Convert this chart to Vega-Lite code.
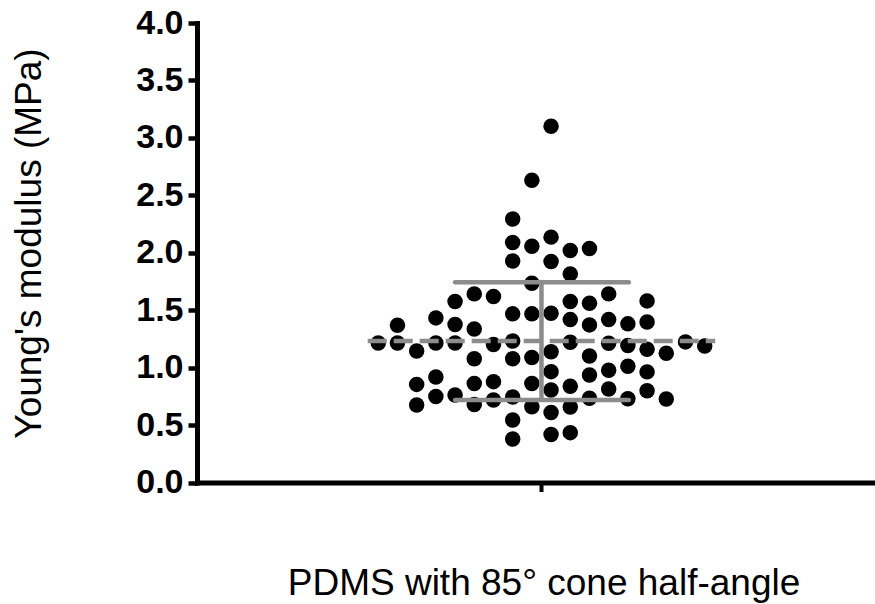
{
  "$schema": "https://vega.github.io/schema/vega-lite/v6.json",
  "width": 678,
  "height": 459.5,
  "autosize": {"type": "none"},
  "padding": {"left": 197, "top": 23, "right": 0, "bottom": 121.5},
  "background": "white",
  "config": {"view": {"stroke": null}, "font": "Liberation Sans"},
  "datasets": {
    "moduli": [
      {"slot": -8.5, "E": 1.215},
      {"slot": -7.5, "E": 1.368}, {"slot": -7.5, "E": 1.215},
      {"slot": -6.5, "E": 1.145}, {"slot": -6.5, "E": 0.854}, {"slot": -6.5, "E": 0.675},
      {"slot": -5.5, "E": 1.433}, {"slot": -5.5, "E": 1.215}, {"slot": -5.5, "E": 0.919}, {"slot": -5.5, "E": 0.749},
      {"slot": -4.5, "E": 1.575}, {"slot": -4.5, "E": 1.376}, {"slot": -4.5, "E": 1.215}, {"slot": -4.5, "E": 0.762},
      {"slot": -3.5, "E": 1.642}, {"slot": -3.5, "E": 1.337}, {"slot": -3.5, "E": 1.078}, {"slot": -3.5, "E": 0.861}, {"slot": -3.5, "E": 0.678},
      {"slot": -2.5, "E": 1.62}, {"slot": -2.5, "E": 1.202}, {"slot": -2.5, "E": 0.878}, {"slot": -2.5, "E": 0.719},
      {"slot": -1.5, "E": 2.293}, {"slot": -1.5, "E": 2.089}, {"slot": -1.5, "E": 1.929}, {"slot": -1.5, "E": 1.468}, {"slot": -1.5, "E": 1.231}, {"slot": -1.5, "E": 1.078}, {"slot": -1.5, "E": 0.745}, {"slot": -1.5, "E": 0.544}, {"slot": -1.5, "E": 0.379},
      {"slot": -0.5, "E": 2.632}, {"slot": -0.5, "E": 2.056}, {"slot": -0.5, "E": 1.735}, {"slot": -0.5, "E": 1.468}, {"slot": -0.5, "E": 1.089}, {"slot": -0.5, "E": 0.862}, {"slot": -0.5, "E": 0.66},
      {"slot": 0.5, "E": 3.101}, {"slot": 0.5, "E": 2.136}, {"slot": 0.5, "E": 1.923}, {"slot": 0.5, "E": 1.474}, {"slot": 0.5, "E": 1.139}, {"slot": 0.5, "E": 0.965}, {"slot": 0.5, "E": 0.806}, {"slot": 0.5, "E": 0.61}, {"slot": 0.5, "E": 0.418},
      {"slot": 1.5, "E": 2.019}, {"slot": 1.5, "E": 1.816}, {"slot": 1.5, "E": 1.575}, {"slot": 1.5, "E": 1.418}, {"slot": 1.5, "E": 1.221}, {"slot": 1.5, "E": 0.838}, {"slot": 1.5, "E": 0.658}, {"slot": 1.5, "E": 0.434},
      {"slot": 2.5, "E": 2.037}, {"slot": 2.5, "E": 1.561}, {"slot": 2.5, "E": 1.372}, {"slot": 2.5, "E": 1.102}, {"slot": 2.5, "E": 0.936}, {"slot": 2.5, "E": 0.733},
      {"slot": 3.5, "E": 1.642}, {"slot": 3.5, "E": 1.418}, {"slot": 3.5, "E": 1.213}, {"slot": 3.5, "E": 0.977}, {"slot": 3.5, "E": 0.814},
      {"slot": 4.5, "E": 1.381}, {"slot": 4.5, "E": 1.193}, {"slot": 4.5, "E": 1.012}, {"slot": 4.5, "E": 0.729},
      {"slot": 5.5, "E": 1.581}, {"slot": 5.5, "E": 1.398}, {"slot": 5.5, "E": 1.16}, {"slot": 5.5, "E": 0.963}, {"slot": 5.5, "E": 0.799},
      {"slot": 6.5, "E": 1.125}, {"slot": 6.5, "E": 0.727},
      {"slot": 7.5, "E": 1.224},
      {"slot": 8.5, "E": 1.189}
    ],
    "summary": [{"mean": 1.232, "lo": 0.719, "hi": 1.744}]
  },
  "layer": [
    {
      "data": {"name": "moduli"},
      "mark": {"type": "circle", "size": 240, "color": "black", "opacity": 1},
      "encoding": {
        "x": {
          "field": "slot",
          "type": "quantitative",
          "scale": {"domain": [-17.94, 17.37], "nice": false, "zero": false},
          "axis": {
            "title": "PDMS with 85° cone half-angle",
            "values": [0],
            "labels": false,
            "grid": false,
            "domainColor": "black",
            "domainWidth": 5,
            "domainCap": "square",
            "tickColor": "black",
            "tickWidth": 4,
            "tickSize": 9,
            "titleFont": "Liberation Sans",
            "titleFontSize": 37,
            "titleFontWeight": "normal",
            "titleColor": "black",
            "titleX": 346.5,
            "titleY": 100.5,
            "titleBaseline": "middle",
            "titleAlign": "center"
          }
        },
        "y": {
          "field": "E",
          "type": "quantitative",
          "scale": {"domain": [0, 4], "nice": false},
          "axis": {
            "title": "Young's modulus (MPa)",
            "values": [0, 0.5, 1, 1.5, 2, 2.5, 3, 3.5, 4],
            "format": ".1f",
            "grid": false,
            "domainColor": "black",
            "domainWidth": 5,
            "domainCap": "square",
            "tickColor": "black",
            "tickWidth": 4.5,
            "tickSize": 9,
            "labelFont": "Liberation Sans",
            "labelFontWeight": "bold",
            "labelFontSize": 34,
            "labelColor": "black",
            "labelPadding": 5,
            "labelOverlap": false,
            "titleFont": "Liberation Sans",
            "titleFontSize": 37,
            "titleFontWeight": "normal",
            "titleColor": "black",
            "titleAngle": -90,
            "titleX": -168,
            "titleY": 220,
            "titleBaseline": "middle",
            "titleAlign": "center"
          }
        }
      }
    },
    {
      "data": {"name": "summary"},
      "mark": {"type": "rule", "color": "#8c8c8c", "strokeWidth": 4.5, "strokeDash": [19, 7]},
      "encoding": {
        "x": {"datum": -9.05},
        "x2": {"datum": 9.05},
        "y": {"field": "mean", "type": "quantitative"}
      }
    },
    {
      "data": {"name": "summary"},
      "mark": {"type": "rule", "color": "#8c8c8c", "strokeWidth": 4.5},
      "encoding": {
        "x": {"datum": 0},
        "y": {"field": "lo", "type": "quantitative"},
        "y2": {"field": "hi"}
      }
    },
    {
      "data": {"name": "summary"},
      "mark": {"type": "rule", "color": "#8c8c8c", "strokeWidth": 4.5, "strokeCap": "round"},
      "encoding": {
        "x": {"datum": -4.5},
        "x2": {"datum": 4.55},
        "y": {"field": "hi", "type": "quantitative"}
      }
    },
    {
      "data": {"name": "summary"},
      "mark": {"type": "rule", "color": "#8c8c8c", "strokeWidth": 4.5, "strokeCap": "round"},
      "encoding": {
        "x": {"datum": -4.5},
        "x2": {"datum": 4.55},
        "y": {"field": "lo", "type": "quantitative"}
      }
    }
  ]
}
